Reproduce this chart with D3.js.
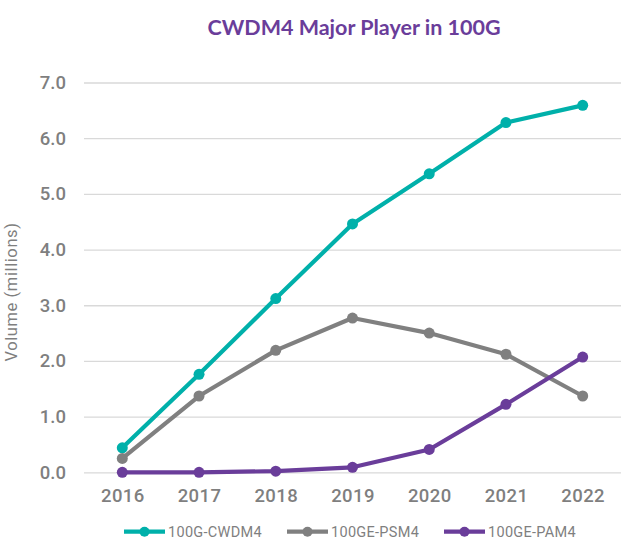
<!DOCTYPE html>
<html><head><meta charset="utf-8">
<script src="https://cdn.jsdelivr.net/npm/d3@7/dist/d3.min.js"></script>
<style>body{margin:0;background:#fff}svg{display:block}</style>
</head><body>
<svg id="c" width="643" height="543"></svg>
<script>
const years = [2016, 2017, 2018, 2019, 2020, 2021, 2022];
const cwdm4 = [0.44, 1.76, 3.12, 4.46, 5.36, 6.28, 6.59];
const psm4 = [0.25, 1.37, 2.19, 2.77, 2.50, 2.12, 1.37];
const pam4 = [0.0, 0.0, 0.02, 0.09, 0.41, 1.22, 2.07];
const yTicks = [0, 1, 2, 3, 4, 5, 6, 7];
const seriesNames = ["100G-CWDM4", "100GE-PSM4", "100GE-PAM4"];
const seriesColors = ["#00b0aa", "#808080", "#6a3d9a"];
const series = [cwdm4, psm4, pam4];

const svg = d3.select("#c");
const textColor = "#7f7f7f";
const font = "Roboto";

const x = d3.scalePoint().domain(years).range([122.3, 582.7]);
const y = d3.scaleLinear().domain([0, 7]).range([472.3, 82.5]);

svg.append("text").attr("x", 354).attr("y", 35).attr("text-anchor", "middle")
  .attr("font-family", "Lato").attr("font-weight", "bold").attr("font-size", 21.5)
  .attr("fill", "#6a3d9a").text("CWDM4 Major Player in 100G");

// gridlines
const yAxis = d3.axisLeft(y).tickValues(yTicks).tickFormat(d3.format(".1f"))
  .tickSize(-(621 - 84)).tickPadding(18);
const gy = svg.append("g").attr("transform", "translate(84,0)").call(yAxis);
gy.select(".domain").remove();
gy.selectAll(".tick line").attr("stroke", "#d9d9d9").attr("stroke-width", 1.3);
gy.selectAll(".tick text").attr("fill", textColor).attr("font-family", font)
  .attr("font-weight", 500).attr("font-size", 18.5);

const xAxis = d3.axisBottom(x).tickSize(0).tickPadding(17);
const gx = svg.append("g").attr("transform", "translate(0,472.3)").call(xAxis);
gx.select(".domain").remove();
gx.selectAll(".tick text").attr("fill", textColor).attr("font-family", font)
  .attr("font-weight", 500).attr("font-size", 18.5).attr("letter-spacing", 0.4);

svg.append("text").attr("transform", "translate(17,292) rotate(-90)").attr("text-anchor", "middle")
  .attr("font-family", font).attr("font-size", 16.5).attr("letter-spacing", 0.6)
  .attr("fill", textColor).text("Volume (millions)");

const line = d3.line().x((d, i) => x(years[i])).y(d => y(d));
series.forEach((s, k) => {
  const g = svg.append("g");
  g.append("path").datum(s).attr("d", line).attr("fill", "none")
    .attr("stroke", seriesColors[k]).attr("stroke-width", 4.2).attr("stroke-linejoin", "round");
  g.selectAll("circle").data(s).join("circle")
    .attr("cx", (d, i) => x(years[i])).attr("cy", d => y(d)).attr("r", 5.5)
    .attr("fill", seriesColors[k]);
});

// legend
const legX = [124, 287, 444];
const legY = 531.7;
seriesNames.forEach((n, k) => {
  const g = svg.append("g").attr("transform", `translate(${legX[k]},${legY})`);
  g.append("line").attr("x1", 0).attr("x2", 41).attr("stroke", seriesColors[k]).attr("stroke-width", 4.2);
  g.append("circle").attr("cx", 20.5).attr("r", 5).attr("fill", seriesColors[k]);
  g.append("text").attr("x", 44).attr("dy", "0.36em").attr("font-family", font).attr("font-size", 14.5)
    .attr("letter-spacing", 0.3).attr("fill", textColor).text(n);
});
</script>
</body></html>
